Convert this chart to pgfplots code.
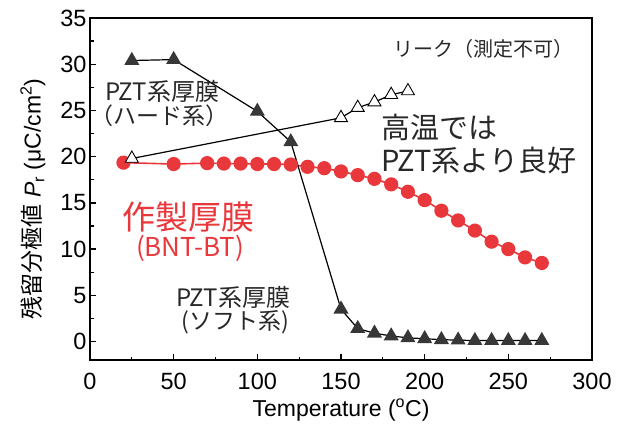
\documentclass[border=0pt]{standalone}
\usepackage{pgfplots}
\pgfplotsset{compat=1.18}
\usepackage{fontspec}
\setmainfont{Liberation Sans}
\newfontfamily\cjk{Noto Sans CJK JP}
\definecolor{myred}{RGB}{233,56,60}
\definecolor{tri}{RGB}{55,55,55}
\definecolor{txt}{RGB}{40,40,40}
\begin{document}
\begin{tikzpicture}
\useasboundingbox (0pt,0pt) rectangle (627pt,426pt);
\begin{axis}[
  at={(90pt,66pt)}, anchor=south west,
  scale only axis, width=502pt, height=342pt,
  xmin=0, xmax=300, ymin=-2, ymax=35,
  xtick={0,50,...,300}, ytick={0,5,...,35},
  minor x tick num=1, minor y tick num=1,
  tick pos=left, tick align=inside,
  major tick length=6pt, minor tick length=3.5pt,
  axis line style={line width=1.6pt, black},
  every tick/.style={line width=1.3pt, black},
  /pgf/number format/assume math mode=true,
  ticklabel style={font=\fontsize{23.5}{23.5}\selectfont},
  label style={font=\fontsize{23}{23}\selectfont},
  xticklabel shift=10pt,
  xlabel={Temperature (\textsuperscript{o}C)},
  ylabel={{\cjk 残留分極値} \textit{P}\textsubscript{r} (μC/cm\textsuperscript{2})},
  xlabel style={yshift=-2pt},
  ylabel style={yshift=8pt, xshift=-10pt},
]
\addplot[color=myred, line width=1.6pt, mark=*, mark size=6.3pt, mark options={fill=myred, draw=myred}] coordinates {
(20,19.35) (50,19.2) (70,19.3) (80,19.25) (90,19.25) (100,19.2) (110,19.2) (120,19.15)
(130,18.9) (140,18.75) (150,18.4) (160,18.0) (170,17.6) (180,17.0) (190,16.2) (200,15.3)
(210,14.15) (220,13.1) (230,12.0) (240,10.8) (250,10.0) (260,9.1) (270,8.5)};
\addplot[color=black, line width=1.2pt, mark=triangle*, mark size=7.5pt, mark options={fill=white, draw=black, line width=0.9pt}] coordinates {
(25,19.8) (150,24.2) (160,25.3) (170,25.9) (180,26.7) (190,27.1)};
\addplot[color=black, line width=1.2pt, mark=triangle*, mark size=7.5pt, mark options={fill=tri, draw=tri}] coordinates {
(25,30.4) (50,30.5) (100,24.9) (120,21.6) (150,3.5) (160,1.4) (170,0.9) (180,0.6) (190,0.4)
(200,0.3) (210,0.2) (220,0.15) (230,0.1) (240,0.1) (250,0.1) (260,0.1) (270,0.1)};
\end{axis}
\node[anchor=west, inner sep=0pt, text=txt, font=\cjk\fontsize{20}{20}\selectfont] at (393pt,377pt) {リーク（測定不可）};
\node[inner sep=0pt, text=txt, font=\cjk\fontsize{24}{24}\selectfont] at (162pt,335pt) {PZT系厚膜};
\node[inner sep=0pt, text=txt, font=\cjk\fontsize{23}{23}\selectfont] at (159pt,310pt) {（ハード系）};
\node[anchor=west, inner sep=0pt, text=txt, font=\cjk\fontsize{29}{29}\selectfont] at (381pt,299pt) {高温では};
\node[anchor=west, inner sep=0pt, text=txt, font=\cjk\fontsize{29}{29}\selectfont] at (381pt,266pt) {PZT系より良好};
\node[inner sep=0pt, text=myred, font=\cjk\fontsize{33}{33}\selectfont] at (188pt,209pt) {作製厚膜};
\node[inner sep=0pt, text=myred, font=\cjk\fontsize{26}{26}\selectfont] at (190pt,178pt) {(BNT-BT)};
\node[inner sep=0pt, text=txt, font=\cjk\fontsize{24}{24}\selectfont] at (233pt,129pt) {PZT系厚膜};
\node[inner sep=0pt, text=txt, font=\cjk\fontsize{23}{23}\selectfont] at (235pt,104pt) {(ソフト系)};
\end{tikzpicture}
\end{document}
